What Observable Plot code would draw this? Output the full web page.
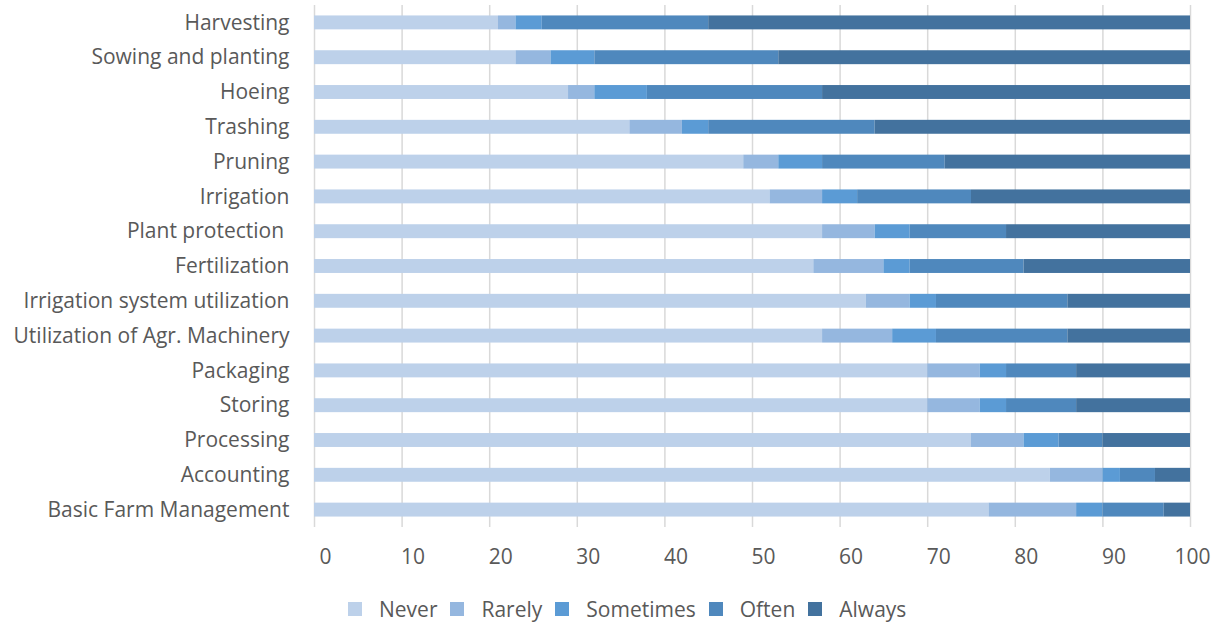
<!DOCTYPE html>
<html>
<head>
<meta charset="utf-8">
<script src="https://cdn.jsdelivr.net/npm/d3@7"></script>
<script src="https://cdn.jsdelivr.net/npm/@observablehq/plot@0.6"></script>
<style>
  body { margin: 0; background: #fff; font-family: "Open Sans", sans-serif; }
  #chart svg text { white-space: pre; }
  .legend { display: flex; align-items: center; height: 40px; margin-top: 14px; padding-left: 348px; font-size: 21px; color: #595959; font-family: "Open Sans", sans-serif; }
  .legend .sw { width: 14px; height: 14px; margin-right: 17px; }
  .legend .lb { margin-right: 13px; }
</style>
</head>
<body>
<div id="chart"></div>
<script>
const tasks = ["Harvesting", "Sowing and planting", "Hoeing", "Trashing", "Pruning", "Irrigation",
  "Plant protection ", "Fertilization", "Irrigation system utilization", "Utilization of Agr. Machinery",
  "Packaging", "Storing", "Processing", "Accounting", "Basic Farm Management"];
const levels = ["Never", "Rarely", "Sometimes", "Often", "Always"];
const colors = ["#bdd1ea", "#95b7df", "#5b9bd5", "#4f88bd", "#43729e"];
const never     = [21, 23, 29, 36, 49, 52, 58, 57, 63, 58, 70, 70, 75, 84, 77];
const rarely    = [ 2,  4,  3,  6,  4,  6,  6,  8,  5,  8,  6,  6,  6,  6, 10];
const sometimes = [ 3,  5,  6,  3,  5,  4,  4,  3,  3,  5,  3,  3,  4,  2,  3];
const often     = [19, 21, 20, 19, 14, 13, 11, 13, 15, 15,  8,  8,  5,  4,  7];
const always    = [55, 47, 42, 36, 28, 25, 21, 19, 14, 14, 13, 13, 10,  4,  3];
const xTicks = [0, 10, 20, 30, 40, 50, 60, 70, 80, 90, 100];

const series = [never, rarely, sometimes, often, always];
const rows = [];
tasks.forEach((t, i) => levels.forEach((l, j) => rows.push({task: t, level: l, value: series[j][i]})));

const chart = Plot.plot({
  width: 1217,
  height: 575,
  marginLeft: 314,
  marginRight: 27,
  marginTop: 5,
  marginBottom: 48,
  style: {fontFamily: "Open Sans", fontSize: "21px", color: "#595959", background: "#fff"},
  x: {domain: [0, 100]},
  y: {domain: tasks, paddingInner: 0.6, paddingOuter: 0.3, round: false, label: null},
  color: {domain: levels, range: colors},
  marks: [
    Plot.gridX(xTicks, {stroke: "#d9d9d9", strokeOpacity: 1, strokeWidth: 1.5}),
    Plot.barX(rows, Plot.stackX({x: "value", y: "task", fill: "level", order: levels})),
    Plot.axisY({tickSize: 0, tickPadding: 25, label: null, fill: "#595959"}),
    Plot.axisX(xTicks.filter(d => d < 100), {tickSize: 0, tickPadding: 22, dx: 11, label: null, fill: "#595959"}),
    Plot.axisX([100], {tickSize: 0, tickPadding: 22, dx: 2, label: null, fill: "#595959"})
  ]
});
document.getElementById("chart").appendChild(chart);

const legend = document.createElement("div");
legend.className = "legend";
levels.forEach((l, i) => {
  const sw = document.createElement("span");
  sw.className = "sw";
  sw.style.background = colors[i];
  const lb = document.createElement("span");
  lb.className = "lb";
  lb.textContent = l;
  legend.appendChild(sw);
  legend.appendChild(lb);
});
document.body.appendChild(legend);
</script>
</body>
</html>
